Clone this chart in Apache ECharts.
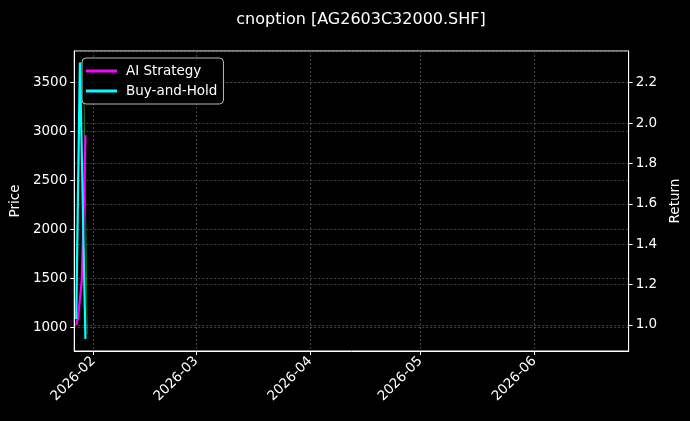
<!DOCTYPE html>
<html>
<head>
<meta charset="utf-8">
<script src="https://cdn.jsdelivr.net/npm/echarts@6/dist/echarts.min.js"></script>
<style>
  html, body { margin: 0; padding: 0; background: #000; }
  #chart { width: 690px; height: 421px; }
</style>
</head>
<body>
<div id="chart"></div>
<script>
// 数据
var dates = ['2026-01-27 09:00', '2026-01-27 21:00', '2026-01-28 09:00', '2026-01-28 21:00',
             '2026-01-29 09:00', '2026-01-29 21:00', '2026-01-30 09:00'];
var priceVals = [1050, 2300, 3700, 3700, 3700, 3700, 930];
var aiReturn = [1.00, 1.035, 1.13, 1.22, 1.55, 1.94, null];
var bhReturn = [1.03, 1.69, 2.30, 1.86, 1.39, 0.93, null];

function pairs(vals) {
    var out = [];
    for (var i = 0; i < dates.length; i++) {
        out.push([dates[i], vals[i]]);
    }
    return out;
}

var font = 'DejaVu Sans';
var fs = 13.5;
var gridLine = { show: true, lineStyle: { color: '#555', width: 0.8, type: [2, 2] } };

var chart = echarts.init(document.getElementById('chart'));
var option = {
    backgroundColor: '#000',
    animation: false,
    textStyle: { fontFamily: font },
    title: {
        text: 'cnoption [AG2603C32000.SHF]',
        left: 356,
        textAlign: 'center',
        top: 7,
        textStyle: { color: '#fff', fontSize: 16, fontWeight: 'normal', fontFamily: font }
    },
    legend: {
        data: ['AI Strategy', 'Buy-and-Hold'],
        orient: 'vertical',
        left: 82,
        top: 58,
        padding: [6, 6, 6, 4],
        itemGap: 6,
        itemWidth: 31,
        itemHeight: 3,
        icon: 'rect',
        backgroundColor: 'rgba(0,0,0,0.8)',
        borderColor: '#bbb',
        borderWidth: 1,
        borderRadius: 4,
        textStyle: { color: '#fff', fontSize: fs, fontFamily: font, padding: [0, 0, 0, 4] }
    },
    grid: {
        left: 74, right: 61, top: 51, bottom: 70,
        show: true, borderColor: '#fff', borderWidth: 1, backgroundColor: 'transparent'
    },
    xAxis: {
        type: 'time',
        min: '2026-01-26 20:00',
        max: '2026-06-26 16:00',
        minInterval: 28 * 86400000,
        maxInterval: 31 * 86400000,
        axisLine: { lineStyle: { color: '#fff' } },
        axisTick: { lineStyle: { color: '#fff' }, length: 4 },
        axisLabel: {
            rotate: 45, color: '#fff', fontSize: fs, fontFamily: font,
            formatter: '{yyyy}-{MM}',
            showMinLabel: false, showMaxLabel: false
        },
        splitLine: gridLine
    },
    yAxis: [{
        type: 'value',
        name: 'Price',
        nameLocation: 'middle',
        nameGap: 46,
        nameTextStyle: { color: '#fff', fontSize: fs, fontFamily: font },
        min: 762,
        max: 3823,
        splitNumber: 6,
        axisLine: { show: true, lineStyle: { color: '#fff' } },
        axisTick: { show: true, lineStyle: { color: '#fff' }, length: 4 },
        axisLabel: {
            color: '#fff', fontSize: fs, fontFamily: font, margin: 7,
            showMinLabel: false, showMaxLabel: false,
            formatter: function (v) { return String(v); }
        },
        splitLine: gridLine
    }, {
        type: 'value',
        name: 'Return',
        nameLocation: 'middle',
        nameGap: 37,
        nameTextStyle: { color: '#fff', fontSize: fs, fontFamily: font },
        min: 0.871,
        max: 2.357,
        splitNumber: 7,
        axisLine: { show: true, lineStyle: { color: '#fff' } },
        axisTick: { show: true, lineStyle: { color: '#fff' }, length: 4 },
        axisLabel: {
            color: '#fff', fontSize: fs, fontFamily: font, margin: 7,
            showMinLabel: false, showMaxLabel: false,
            formatter: function (v) { return v.toFixed(1); }
        },
        splitLine: gridLine
    }],
    series: [{
        name: 'Price',
        type: 'line',
        yAxisIndex: 0,
        data: pairs(priceVals),
        showSymbol: false,
        lineStyle: { color: 'rgba(40,160,40,0.75)', width: 1 },
        itemStyle: { color: 'rgba(40,160,40,0.75)' },
        z: 1
    }, {
        name: 'AI Strategy',
        type: 'line',
        yAxisIndex: 1,
        data: pairs(aiReturn),
        showSymbol: false,
        lineStyle: { color: '#ff00ff', width: 2.2 },
        itemStyle: { color: '#ff00ff' },
        z: 2
    }, {
        name: 'Buy-and-Hold',
        type: 'line',
        yAxisIndex: 1,
        data: pairs(bhReturn),
        showSymbol: false,
        lineStyle: { color: '#00ffff', width: 2.2 },
        itemStyle: { color: '#00ffff' },
        z: 3
    }]
};
chart.setOption(option);
</script>
</body>
</html>
